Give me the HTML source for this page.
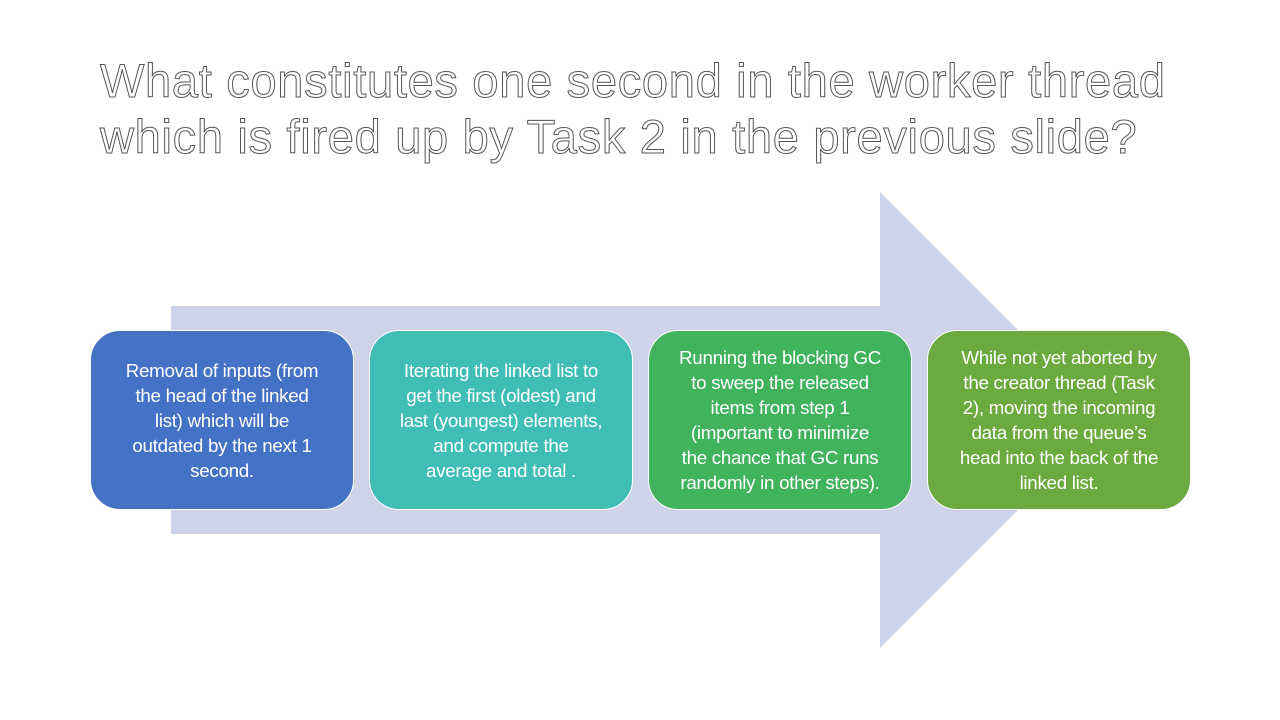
<!DOCTYPE html>
<html><head><meta charset="utf-8"><style>
body{margin:0;width:1280px;height:720px;background:#fff;position:relative;overflow:hidden;font-family:"Liberation Sans",sans-serif}
.t{position:absolute;left:100px;top:53px;font-size:47px;line-height:56px;color:#fff;-webkit-text-stroke:1px #555;white-space:nowrap;letter-spacing:0.7px}
.b{position:absolute;top:330px;width:264px;height:180px;border-radius:30px;border:1.5px solid #fff;box-sizing:border-box;color:#fff;font-size:18.8px;line-height:25px;text-align:center;display:flex;align-items:center;justify-content:center;white-space:nowrap;letter-spacing:-0.3px}
</style></head><body>
<svg width="1280" height="720" style="position:absolute;left:0;top:0">
<polygon points="171,306 880,306 880,192 1108,420 880,648 880,534 171,534" fill="#cfd3ea"/>
</svg>
<div class="t">What constitutes one second in the worker thread<br>which is fired up by Task 2 in the previous slide?</div>
<div class="b" style="left:90px;background:#4472c4"><div>Removal of inputs (from<br>the head of the linked<br>list) which will be<br>outdated by the next 1<br>second.</div></div>
<div class="b" style="left:369px;background:#40bdb5"><div>Iterating the linked list to<br>get the first (oldest) and<br>last (youngest) elements,<br>and compute the<br>average and total .</div></div>
<div class="b" style="left:648px;background:#41b35c"><div>Running the blocking GC<br>to sweep the released<br>items from step 1<br>(important to minimize<br>the chance that GC runs<br>randomly in other steps).</div></div>
<div class="b" style="left:927px;background:#6aaa3e"><div>While not yet aborted by<br>the creator thread (Task<br>2), moving the incoming<br>data from the queue’s<br>head into the back of the<br>linked list.</div></div>
</body></html>
